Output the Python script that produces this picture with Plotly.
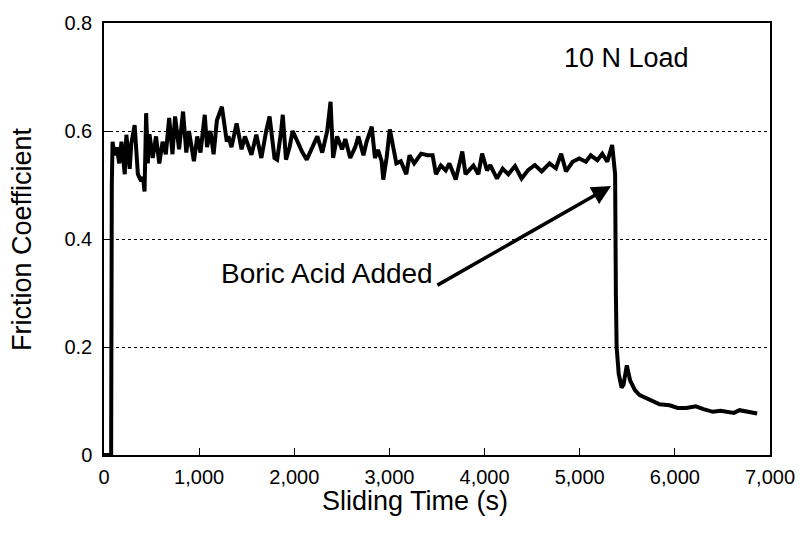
import plotly.graph_objects as go

# Sliding time (s) and friction coefficient
time_s = [
    0, 40, 75, 82, 90, 110, 135, 160, 184, 218, 235, 270, 287, 322, 356, 391, 410, 426, 443,
    460, 478, 512, 547, 581, 616, 650, 685, 720, 747, 789, 831, 865, 893, 945, 980, 1014,
    1059, 1083, 1118, 1152, 1187, 1239, 1291,
    1308, 1340, 1394, 1446, 1481, 1550, 1601, 1654, 1705, 1740, 1792, 1820, 1862, 1879,
    1913, 1950, 1983, 2034, 2086, 2131, 2190, 2242, 2294, 2346, 2381, 2408, 2450, 2502,
    2536, 2588, 2640,
    2674, 2727, 2760, 2814, 2848, 2880, 2918, 2935, 2970, 3004, 3040, 3073, 3120, 3177,
    3211, 3260, 3333, 3402, 3454, 3489, 3540, 3592, 3630, 3697, 3766, 3800, 3883, 3935,
    3974, 4026,
    4060, 4130, 4190, 4250, 4320, 4389, 4460, 4528, 4600, 4683, 4750, 4805, 4856, 4925,
    4995, 5065, 5116, 5185, 5237, 5290, 5341, 5358, 5372,
    5380, 5388, 5410, 5440, 5460, 5495, 5530, 5580, 5630, 5700, 5775, 5840, 5945, 6030,
    6120, 6220, 6300, 6400, 6480, 6540, 6620, 6680, 6760, 6865,
]
friction = [
    0.0, 0.0, 0.0, 0.50, 0.58, 0.555, 0.57, 0.54, 0.58, 0.52, 0.593, 0.53, 0.577, 0.611,
    0.52, 0.507, 0.515, 0.488, 0.633,
    0.54, 0.594, 0.55, 0.59, 0.54, 0.58, 0.557, 0.624, 0.557, 0.627, 0.566, 0.636, 0.56,
    0.60, 0.544, 0.59, 0.56,
    0.63, 0.57, 0.60, 0.557, 0.62, 0.645, 0.58,
    0.59, 0.57, 0.614, 0.566, 0.59, 0.556, 0.593, 0.55, 0.60, 0.627, 0.55, 0.547, 0.60, 0.63,
    0.547, 0.57, 0.60, 0.58, 0.56, 0.547, 0.57, 0.59, 0.56, 0.60, 0.654, 0.55, 0.59, 0.566,
    0.585, 0.55, 0.57,
    0.59, 0.555, 0.58, 0.608, 0.55, 0.565, 0.544, 0.51, 0.55, 0.603, 0.566, 0.54, 0.544, 0.52,
    0.555, 0.54, 0.558, 0.555, 0.555, 0.52, 0.536, 0.527, 0.54, 0.51, 0.562, 0.52, 0.536, 0.52,
    0.558, 0.527,
    0.537, 0.512, 0.53, 0.52, 0.535, 0.512, 0.528, 0.537, 0.525, 0.54, 0.531, 0.558, 0.525,
    0.543, 0.549, 0.543, 0.555, 0.546, 0.558, 0.543, 0.574, 0.535, 0.52,
    0.30, 0.20, 0.15, 0.125, 0.13, 0.166, 0.138, 0.12, 0.111, 0.105, 0.098, 0.094, 0.092, 0.087,
    0.087, 0.09, 0.085, 0.08, 0.082, 0.08, 0.078, 0.083, 0.08, 0.077,
]

x_ticks = [0, 1000, 2000, 3000, 4000, 5000, 6000, 7000]
x_tick_labels = ["0", "1,000", "2,000", "3,000", "4,000", "5,000", "6,000", "7,000"]
y_ticks = [0, 0.2, 0.4, 0.6, 0.8]
y_tick_labels = ["0", "0.2", "0.4", "0.6", "0.8"]

FONT = "Liberation Sans, Arial, Helvetica, sans-serif"

fig = go.Figure()
fig.add_trace(go.Scatter(
    x=time_s, y=friction, mode="lines",
    line=dict(color="black", width=4),
    showlegend=False, hoverinfo="skip",
))

fig.update_layout(
    width=807, height=533, autosize=False,
    margin=dict(l=104, r=29, t=21, b=78),
    paper_bgcolor="white", plot_bgcolor="white",
    font=dict(family=FONT, size=20, color="black"),
    xaxis=dict(
        range=[0, 7000], tickvals=x_ticks, ticktext=x_tick_labels,
        ticks="inside", ticklen=7, tickwidth=1, tickcolor="black",
        showline=True, linecolor="black", linewidth=1.5, mirror=True,
        showgrid=False, zeroline=False, ticklabelstandoff=3,
        tickfont=dict(family=FONT, size=20, color="black"),
    ),
    yaxis=dict(
        range=[0, 0.8], tickvals=y_ticks, ticktext=y_tick_labels,
        ticks="inside", ticklen=7, tickwidth=1, tickcolor="black",
        showline=True, linecolor="black", linewidth=1.5, mirror=True,
        showgrid=True, gridcolor="black", gridwidth=1, griddash="dot",
        zeroline=False, ticklabelstandoff=6,
        tickfont=dict(family=FONT, size=20, color="black"),
    ),
    annotations=[
        dict(text="Friction Coefficient", xref="paper", yref="paper", x=-0.123, y=0.5,
             xanchor="center", yanchor="middle", textangle=-90, showarrow=False,
             font=dict(family=FONT, size=27, color="black")),
        dict(text="Sliding Time (s)", xref="paper", yref="paper", x=0.467, y=-0.106,
             xanchor="center", yanchor="middle", showarrow=False,
             font=dict(family=FONT, size=27, color="black")),
        dict(text="10 N Load", xref="x", yref="y", x=5493, y=0.736,
             xanchor="center", yanchor="middle", showarrow=False,
             font=dict(family=FONT, size=27, color="black")),
        dict(text="Boric Acid Added", xref="x", yref="y", x=2347, y=0.337,
             xanchor="center", yanchor="middle", showarrow=False,
             font=dict(family=FONT, size=28, color="black")),
        dict(text="", xref="x", yref="y", x=5330, y=0.498,
             axref="x", ayref="y", ax=3489, ay=0.313,
             showarrow=True, arrowhead=2, arrowsize=1.1, arrowwidth=3.5,
             arrowcolor="black"),
    ],
)

fig.write_html("out.html")
